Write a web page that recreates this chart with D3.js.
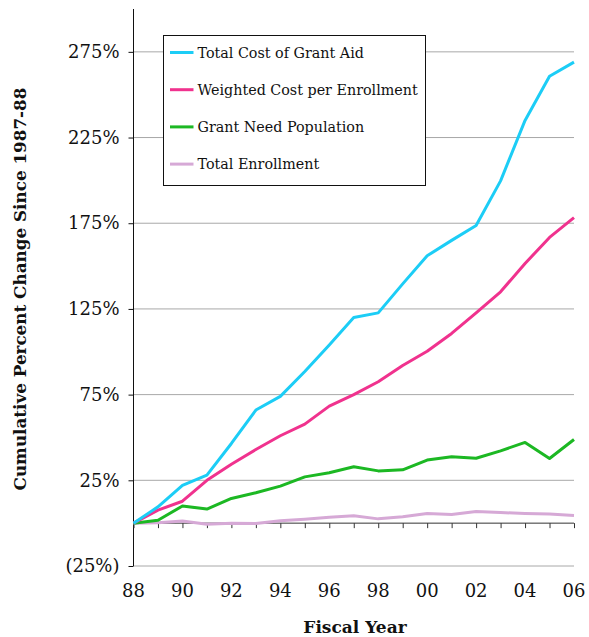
<!DOCTYPE html>
<html>
<head>
<meta charset="utf-8">
<script src="https://cdn.jsdelivr.net/npm/d3@7"></script>
<style>
  html, body { margin: 0; padding: 0; background: #fff; }
  svg text { font-family: "DejaVu Serif", "Liberation Serif", serif; fill: #111; }
</style>
</head>
<body>
<div id="chart"></div>
<script>
// Fiscal years 1988 to 2006
const years = [1988, 1989, 1990, 1991, 1992, 1993, 1994, 1995, 1996, 1997,
               1998, 1999, 2000, 2001, 2002, 2003, 2004, 2005, 2006];

// Cumulative percent change since 1987-88
const totalCostGrantAid = [0, 9.5, 22, 28, 46.5, 66, 74, 88.5, 104, 120,
                           122.7, 139.6, 156, 165, 173.7, 199.7, 235, 260.8, 269];
const weightedCostPerEnrollment = [0, 7.6, 12.8, 25, 34.4, 43, 51, 57.8, 68.3, 75,
                                   82.5, 92, 100.3, 110.7, 122.7, 135, 151.5, 166.7, 178.3];
const grantNeedPopulation = [0, 1.7, 10, 8.2, 14.4, 17.7, 21.6, 27, 29.4, 32.9,
                             30.5, 31.1, 36.8, 38.7, 37.9, 42.2, 47.1, 37.7, 48.8];
const totalEnrollment = [0, 0.3, 1.2, -0.6, 0, -0.2, 1.4, 2.3, 3.5, 4.3,
                         2.5, 3.7, 5.6, 5.1, 6.8, 6.2, 5.6, 5.3, 4.5];

const seriesNames = ["Total Cost of Grant Aid", "Weighted Cost per Enrollment",
                     "Grant Need Population", "Total Enrollment"];
const seriesColors = ["#1ccdf6", "#f0328e", "#1cb823", "#d6a9d6"];
const seriesValues = [totalCostGrantAid, weightedCostPerEnrollment, grantNeedPopulation, totalEnrollment];

const yTicks = [-25, 25, 75, 125, 175, 225, 275];
const xTickLabels = ["88", "90", "92", "94", "96", "98", "00", "02", "04", "06"];

const W = 589, H = 637;
const margin = { left: 133.5, right: 15, top: 9, bottom: 71 };

const svg = d3.select("#chart").append("svg")
  .attr("width", W).attr("height", H);

const x = d3.scaleLinear()
  .domain([1988, 2006])
  .range([margin.left, W - margin.right]);

const y = d3.scaleLinear()
  .domain([-25, 300])
  .range([H - margin.bottom, margin.top]);

const fmtPct = v => v < 0 ? `(${Math.abs(v)}%)` : `${v}%`;

// horizontal gridlines
svg.append("g")
  .selectAll("line")
  .data(yTicks)
  .join("line")
  .attr("x1", margin.left).attr("x2", W - margin.right)
  .attr("y1", d => y(d)).attr("y2", d => y(d))
  .attr("stroke", "#a8a8a8").attr("stroke-width", 1);

// y axis
svg.append("g")
  .attr("transform", `translate(${margin.left},0)`)
  .call(d3.axisLeft(y).tickValues(yTicks).tickFormat(fmtPct).tickSize(5).tickPadding(9))
  .call(g => g.select(".domain").attr("d", `M-0,${y(-25)}V${margin.top}`).attr("stroke", "#111"))
  .call(g => g.selectAll(".tick line").attr("stroke", "#111"))
  .call(g => g.selectAll(".tick text")
    .attr("font-size", 18).attr("font-family", "DejaVu Serif, serif").attr("fill", "#111"));

// zero line with yearly tick marks
svg.append("g")
  .attr("transform", `translate(0,${y(0)})`)
  .call(d3.axisBottom(x).tickValues(years).tickSize(5).tickFormat(""))
  .call(g => g.select(".domain").attr("d", `M${margin.left},0H${W - margin.right}`).attr("stroke", "#333"))
  .call(g => g.selectAll(".tick line").attr("stroke", "#333"));

// year labels along the bottom
svg.append("g")
  .selectAll("text")
  .data(xTickLabels)
  .join("text")
  .attr("x", (d, i) => x(1988 + i * 2))
  .attr("y", 597)
  .attr("text-anchor", "middle")
  .attr("font-size", 18)
  .text(d => d);

// series lines
const line = d3.line()
  .x((d, i) => x(years[i]))
  .y(d => y(d));

// draw so enrollment sits at the bottom, cyan on top
const drawOrder = [3, 2, 1, 0];
svg.append("g")
  .selectAll("path")
  .data(drawOrder)
  .join("path")
  .attr("d", k => line(seriesValues[k]))
  .attr("fill", "none")
  .attr("stroke", k => seriesColors[k])
  .attr("stroke-width", 3)
  .attr("stroke-linejoin", "round");

// legend
const legend = svg.append("g").attr("transform", "translate(163.5,35.5)");
legend.append("rect")
  .attr("width", 262).attr("height", 150)
  .attr("fill", "#fff").attr("stroke", "#111").attr("stroke-width", 1);
const items = legend.selectAll("g.item")
  .data(seriesNames)
  .join("g")
  .attr("class", "item")
  .attr("transform", (d, i) => `translate(0,${17 + i * 37.2})`);
items.append("line")
  .attr("x1", 6.5).attr("x2", 30)
  .attr("stroke", (d, i) => seriesColors[i]).attr("stroke-width", 3);
items.append("text")
  .attr("x", 34).attr("dy", "0.35em")
  .attr("font-size", 14.3)
  .text(d => d);

// axis titles
svg.append("text")
  .attr("x", 355).attr("y", 633)
  .attr("text-anchor", "middle")
  .attr("font-size", 17).attr("font-weight", "bold")
  .text("Fiscal Year");

svg.append("text")
  .attr("transform", "translate(26,289) rotate(-90)")
  .attr("text-anchor", "middle")
  .attr("font-size", 16.8).attr("font-weight", "bold")
  .text("Cumulative Percent Change Since 1987-88");
</script>
</body>
</html>
